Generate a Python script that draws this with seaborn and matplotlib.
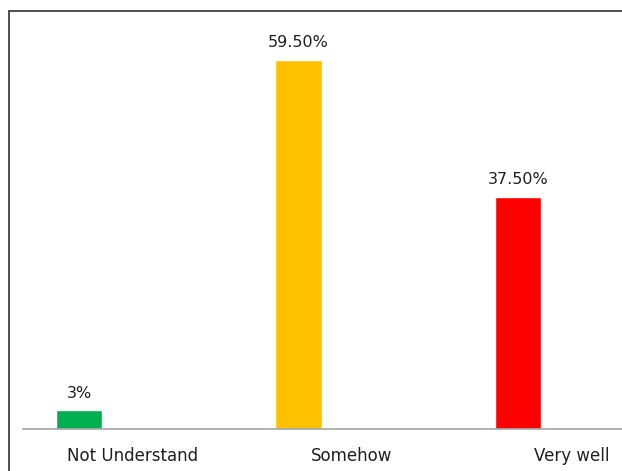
import matplotlib
matplotlib.use("Agg")
import matplotlib.pyplot as plt
from matplotlib.lines import Line2D
import seaborn as sns

# Survey responses: how well the topic was understood (percent of respondents)
categories = ["Not Understand", "Somehow", "Very well"]
shares = [3.0, 59.5, 37.5]
bar_colors = ["#00B050", "#FFC000", "#FF0000"]


def pct_label(v):
    return f"{v:g}%" if float(v).is_integer() else f"{v:.2f}%"


sns.set_theme(style="white")
plt.rcParams["font.family"] = ["DejaVu Sans"]

W, H = 622, 471
fig = plt.figure(figsize=(W / 100, H / 100), dpi=100)
fig.patch.set_facecolor("white")

# plot area: baseline at y=429 px, left edge at x=23 px, runs off the right edge
left_px, base_px, top_px = 23, 429, 10
ax = fig.add_axes([left_px / W, (H - base_px) / H, (W - left_px) / W, (base_px - top_px) / H])

sns.barplot(x=categories, y=shares, hue=categories, palette=bar_colors,
            width=0.21, legend=False, saturation=1, ax=ax)

slot_px = 219.5
x0 = -56 / slot_px
ax.set_xlim(x0, x0 + (W - left_px) / slot_px)
ax.set_ylim(0, (base_px - top_px) / 6.2)

# category names sit to the right of each bar
label_shift = 53.5 / slot_px
ax.set_xticks([i + label_shift for i in range(len(categories))])
ax.set_xticklabels(categories, fontsize=12, color="#1f1f1f")
ax.tick_params(axis="x", length=0, pad=13)
ax.set_yticks([])
ax.set_xlabel("")
ax.set_ylabel("")

for side in ("top", "right", "left"):
    ax.spines[side].set_visible(False)
ax.spines["bottom"].set_color("#a6a6a6")
ax.spines["bottom"].set_linewidth(1.2)

for container in ax.containers:
    vals = container.datavalues
    ax.bar_label(container, labels=[pct_label(v) for v in vals],
                 padding=7, fontsize=11.5, color="#1f1f1f")

# chart frame (top and left edges visible)
fx = 8.5 / W
fy = 1 - 10.5 / H
fig.add_artist(Line2D([fx, 1.0], [fy, fy], transform=fig.transFigure,
                      color="#404040", linewidth=1.3))
fig.add_artist(Line2D([fx, fx], [fy, 0.0], transform=fig.transFigure,
                      color="#404040", linewidth=1.3))

fig.savefig("out.png", dpi=100, facecolor="white")
